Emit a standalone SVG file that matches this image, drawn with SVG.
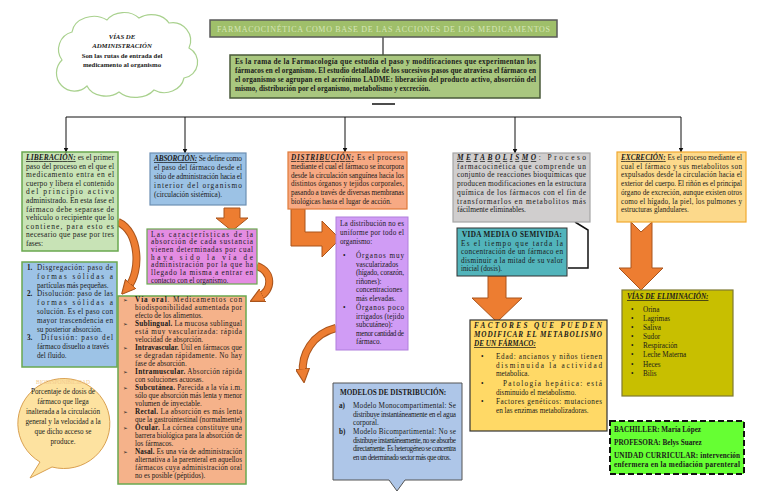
<svg xmlns="http://www.w3.org/2000/svg" width="768" height="497" viewBox="0 0 768 497">
<defs>
<style>
.t{font-family:"Liberation Serif","Times New Roman",serif;fill:#1a1a1a;}
.b{font-weight:bold;}
.bi{font-weight:bold;font-style:italic;text-decoration:underline;}
.c{text-anchor:middle;}
.conn{stroke:#111;stroke-width:1;fill:none;}
.oa{fill:#ed7d31;stroke:#a9541c;stroke-width:1;}
.curve{fill:none;stroke:#ed7d31;stroke-width:6;}
.curveo{fill:none;stroke:#a9541c;stroke-width:8;}
.bul{font-family:"DejaVu Sans",sans-serif;fill:#222;}
</style>
<marker id="ah" viewBox="0 0 10 10" refX="9" refY="5" markerWidth="5" markerHeight="5" markerUnits="userSpaceOnUse" orient="auto"><path d="M0,0 L10,5 L0,10 z" fill="#111"/></marker>
<marker id="oah" viewBox="0 0 10 10" refX="3" refY="5" markerWidth="14" markerHeight="14" markerUnits="userSpaceOnUse" orient="auto"><path d="M0,0 L10,5 L0,10 z" fill="#ed7d31" stroke="#a9541c" stroke-width="0.8"/></marker>
</defs>
<rect width="768" height="497" fill="#fff"/>

<g id="connectors">
<line class="conn" x1="383" y1="37" x2="383" y2="55" style="stroke:#555;stroke-width:1.5"/>
<line class="conn" x1="372" y1="104" x2="395" y2="104" style="stroke-width:1.5"/>
<line class="conn" x1="66" y1="117" x2="681" y2="117"/>
<line class="conn" x1="66" y1="117" x2="66" y2="152" marker-end="url(#ah)"/>
<line class="conn" x1="185" y1="117" x2="185" y2="153" marker-end="url(#ah)"/>
<line class="conn" x1="345" y1="117" x2="345" y2="152" marker-end="url(#ah)"/>
<line class="conn" x1="515" y1="117" x2="515" y2="153" marker-end="url(#ah)"/>
<line class="conn" x1="681" y1="117" x2="681" y2="152" marker-end="url(#ah)"/>
<path class="conn" d="M575,222 L588,230 V268 H568" style="stroke-width:1.5"/>
<path class="curveo" d="M118,222 C140,232 141,272 128,287"/>
<path class="curve" d="M118,222 C140,232 141,272 128,287" marker-end="url(#oah)"/>
<path class="curveo" d="M257,266 C273,272 273,290 259,297"/>
<path class="curve" d="M257,266 C273,272 273,290 259,297" marker-end="url(#oah)"/>
<path class="curveo" d="M336,328 C312,334 301,355 303,373"/>
<path class="curve" d="M336,328 C312,334 301,355 303,373" marker-end="url(#oah)"/>
<polygon class="oa" points="224,208 240,208 240,218 248,218 232,231 216,218 224,218"/>
<polygon class="oa" points="291,209 305,209 305,232 322,232 322,221 340,239 322,257 322,246 291,246"/>
<polygon class="oa" points="488,276 506,276 506,298 522,298 497,322 472,298 488,298"/>
<polygon class="oa" points="631,222 641,232 652,222 652,268 663,268 641,290 619,268 631,268"/>
</g>

<g id="title">
<rect x="210" y="20" width="347" height="17" fill="#9fbf6a" stroke="#5a5a5a" stroke-width="1.5"/>
<text class="t" x="217" y="31.5" font-size="8" textLength="333" lengthAdjust="spacing" style="fill:#d6e6b8">FARMACOCINÉTICA COMO BASE DE LAS ACCIONES DE LOS MEDICAMENTOS</text>
</g>

<g id="descripcion">
<rect x="230" y="55" width="310" height="43" fill="#a9c77f" stroke="#4a5a3a" stroke-width="1.5"/>
<g class="t b" font-size="7.2">
<text x="235" y="64" textLength="301">Es la rama de la Farmacología que estudia el paso y modificaciones que experimentan los</text>
<text x="235" y="73" textLength="301">fármacos en el organismo. El estudio detallado de los sucesivos pasos que atraviesa el fármaco en</text>
<text x="235" y="82" textLength="301">el organismo se agrupan en el acrónimo LADME: liberación del producto activo, absorción del</text>
<text x="235" y="91">mismo, distribución por el organismo, metabolismo y excreción.</text>
</g>
</g>

<g id="vias-administracion">
<path d="M62,60 A18,18 0 0,1 72,32 A22,18 0 0,1 107,20 A20,16 0 0,1 139,18 A20,16 0 0,1 169,23 A18,18 0 0,1 189,48 A16,16 0 0,1 184,78 A20,18 0 0,1 154,90 A22,16 0 0,1 119,92 A20,16 0 0,1 87,86 A16,16 0 0,1 62,60 Z" fill="#fff" stroke="#a9d18e" stroke-width="1.2"/>
<g font-size="6.8">
<text x="122" y="39" class="t c bi" style="text-decoration:none">VÍAS DE</text>
<text x="122" y="48" class="t c bi" style="text-decoration:none">ADMINISTRACIÓN</text>
<text x="122" y="58" class="t c b">Son las rutas de entrada del</text>
<text x="122" y="67" class="t c b">medicamento al organismo</text>
</g>
</g>

<g id="liberacion">
<rect x="22" y="152" width="96" height="99" fill="#c8e3b6" stroke="#6aa84f" stroke-width="1.5"/>
<g class="t" font-size="7.5">
<text x="26" y="160" textLength="88"><tspan class="bi">LIBERACIÓN:</tspan> es el primer</text>
<text x="26" y="168.6" textLength="88">paso del proceso en el que el</text>
<text x="26" y="177.2" textLength="88">medicamento entra en el</text>
<text x="26" y="185.8" textLength="88">cuerpo y libera el contenido</text>
<text x="26" y="194.4" textLength="88">del principio activo</text>
<text x="26" y="203" textLength="88">administrado. En esta fase el</text>
<text x="26" y="211.6" textLength="88">fármaco debe separase de</text>
<text x="26" y="220.2" textLength="88">vehículo o recipiente que lo</text>
<text x="26" y="228.8" textLength="88">contiene, para esto es</text>
<text x="26" y="237.4" textLength="88">necesario que pase por tres</text>
<text x="26" y="246">fases:</text>
</g>
</g>

<g id="fases">
<rect x="22" y="262" width="95" height="105" fill="#9dc3e6" stroke="#6aa84f" stroke-width="1.5"/>
<g class="t" font-size="7.2">
<text x="27" y="270" class="t b">1.</text><text x="37" y="270" textLength="76">Disgregación: paso de</text>
<text x="37" y="278.8" textLength="76">formas sólidas a</text>
<text x="37" y="287.6">partículas más pequeñas.</text>
<text x="27" y="296.4" class="t b">2.</text><text x="37" y="296.4" textLength="76">Disolución: paso de las</text>
<text x="37" y="305.2" textLength="76">formas sólidas a</text>
<text x="37" y="314" textLength="76">solución. Es el paso con</text>
<text x="37" y="322.8" textLength="76">mayor trascendencia en</text>
<text x="37" y="331.6">su posterior absorción.</text>
<text x="27" y="340.4" class="t b">3.</text><text x="41" y="340.4" textLength="72">Difusión: paso del</text>
<text x="37" y="349.2">fármaco disuelto a través</text>
<text x="37" y="358">del fluido.</text>
</g>
</g>

<g id="absorcion">
<rect x="150" y="153" width="96" height="52" fill="#9cc2e5" stroke="#6d8fb3" stroke-width="1.2"/>
<g class="t" font-size="7.3">
<text x="154" y="161" textLength="88"><tspan class="bi">ABSORCIÓN:</tspan> Se define como</text>
<text x="154" y="170" textLength="88">el paso del fármaco desde el</text>
<text x="154" y="179" textLength="88">sitio de administración hacia el</text>
<text x="154" y="188" textLength="88">interior del organismo</text>
<text x="154" y="197">(circulación sistémica).</text>
</g>
</g>

<g id="caracteristicas">
<rect x="147" y="229" width="110" height="55" fill="#e48ce2" stroke="#6aa84f" stroke-width="1.2"/>
<g class="t" font-size="7.2">
<text x="151" y="236.5" textLength="102">Las características de la</text>
<text x="151" y="244.2" textLength="102">absorción de cada sustancia</text>
<text x="151" y="251.9" textLength="102">vienen determinadas por cual</text>
<text x="151" y="259.6" textLength="102">haya sido la vía de</text>
<text x="151" y="267.3" textLength="102">administración por la que ha</text>
<text x="151" y="275" textLength="102">llegado la misma a entrar en</text>
<text x="151" y="282.7">contacto con el organismo.</text>
</g>
</g>

<g id="vias">
<rect x="118" y="296" width="128" height="188" fill="#f5b28a" stroke="#6aa84f" stroke-width="1.5"/>
<g font-size="5.5">
<text class="bul" x="123" y="302">➢</text>
<text class="bul" x="123" y="326">➢</text>
<text class="bul" x="123" y="350">➢</text>
<text class="bul" x="123" y="374">➢</text>
<text class="bul" x="123" y="390">➢</text>
<text class="bul" x="123" y="414">➢</text>
<text class="bul" x="123" y="430">➢</text>
<text class="bul" x="123" y="454">➢</text>
</g>
<g class="t" font-size="7.2">
<text x="135" y="302" textLength="107"><tspan class="b">Vía oral</tspan>. Medicamentos con</text>
<text x="135" y="310" textLength="107">biodisponibilidad aumentada por</text>
<text x="135" y="318">efecto de los alimentos.</text>
<text x="135" y="326" textLength="107"><tspan class="b">Sublingual.</tspan> La mucosa sublingual</text>
<text x="135" y="334" textLength="107">está muy vascularizada: rápida</text>
<text x="135" y="342">velocidad de absorción.</text>
<text x="135" y="350" textLength="107"><tspan class="b">Intravascular.</tspan> Útil en fármacos que</text>
<text x="135" y="358" textLength="107">se degradan rápidamente. No hay</text>
<text x="135" y="366">fase de absorción.</text>
<text x="135" y="374" textLength="107"><tspan class="b">Intramuscular.</tspan> Absorción rápida</text>
<text x="135" y="382">con soluciones acuosas.</text>
<text x="135" y="390" textLength="107"><tspan class="b">Subcutánea.</tspan> Parecida a la vía i.m.</text>
<text x="135" y="398" textLength="107">sólo que absorción más lenta y menor</text>
<text x="135" y="406">volumen de inyectable.</text>
<text x="135" y="414" textLength="107"><tspan class="b">Rectal.</tspan> La absorción es más lenta</text>
<text x="135" y="422" textLength="107">que la gastrointestinal (normalmente)</text>
<text x="135" y="430" textLength="107"><tspan class="b">Ocular.</tspan> La córnea constituye una</text>
<text x="135" y="438" textLength="107">barrera biológica para la absorción de</text>
<text x="135" y="446">los fármacos.</text>
<text x="135" y="454" textLength="107"><tspan class="b">Nasal.</tspan> Es una vía de administración</text>
<text x="135" y="462" textLength="107">alternativa a la parenteral en aquellos</text>
<text x="135" y="470" textLength="107">fármacos cuya administración oral</text>
<text x="135" y="478">no es posible (péptidos).</text>
</g>
</g>

<g id="biodisponibilidad">
<path d="M40,462 A46,45 0 1,1 52,467 L30,478 Z" fill="#fde2a0" stroke="#d9a050" stroke-width="1"/>
<g font-size="7.2">
<text x="63" y="384" class="t c" style="fill:#f2c98c" font-size="5.5">BIODISPONIBILIDAD</text>
<text x="63" y="394" class="t c">Porcentaje de dosis de</text>
<text x="63" y="404" class="t c">fármaco que llega</text>
<text x="63" y="414" class="t c">inalterada a la circulación</text>
<text x="63" y="424" class="t c">general y la velocidad a la</text>
<text x="63" y="434" class="t c">que dicho acceso se</text>
<text x="63" y="444" class="t c">produce.</text>
</g>
</g>

<g id="distribucion">
<rect x="288" y="152" width="119" height="57" fill="#f7a983" stroke="#e07b39" stroke-width="1.2"/>
<g class="t" font-size="7.2">
<text x="291" y="160" textLength="113"><tspan class="bi">DISTRIBUCIÓN:</tspan> Es el proceso</text>
<text x="291" y="168.8" textLength="113">mediante el cual el fármaco se incorpora</text>
<text x="291" y="177.6" textLength="113">desde la circulación sanguínea hacia los</text>
<text x="291" y="186.4" textLength="113">distintos órganos y tejidos corporales,</text>
<text x="291" y="195.2" textLength="113">pasando a través de diversas membranas</text>
<text x="291" y="204">biológicas hasta el lugar de acción.</text>
</g>
</g>

<g id="distribucion-no-uniforme">
<rect x="336" y="217" width="72" height="133" fill="#d09cf5" stroke="#b07fdc" stroke-width="1"/>
<g class="t" font-size="7.2">
<text x="340" y="226" textLength="64">La distribución no es</text>
<text x="340" y="235" textLength="64">uniforme por todo el</text>
<text x="340" y="244">organismo:</text>
<text x="343" y="258">•</text>
<text x="356" y="258" textLength="48">Órganos muy</text>
<text x="356" y="266.5">vascularizados</text>
<text x="356" y="275" textLength="48">(hígado, corazón,</text>
<text x="356" y="283.5">riñones):</text>
<text x="356" y="292">concentraciones</text>
<text x="356" y="300.5">más elevadas.</text>
<text x="343" y="310">•</text>
<text x="356" y="310" textLength="48">Órganos poco</text>
<text x="356" y="318.5" textLength="48">irrigados (tejido</text>
<text x="356" y="327">subcutáneo):</text>
<text x="356" y="335.5" textLength="48">menor cantidad de</text>
<text x="356" y="344">fármaco.</text>
</g>
</g>

<g id="modelos">
<path d="M333,383 H462 V480 H405 L397,491 L389,480 H333 Z" fill="#aec6e8" stroke="#555" stroke-width="1"/>
<g class="t" font-size="7.2">
<text x="340" y="395" class="t b">MODELOS DE DISTRIBUCIÓN:</text>
<text x="339" y="408" class="t b">a)</text><text x="353" y="408" textLength="103">Modelo Monocompartimental: Se</text>
<text x="353" y="416.5" textLength="103">distribuye instantáneamente en el agua</text>
<text x="353" y="425">corporal.</text>
<text x="339" y="434" class="t b">b)</text><text x="353" y="434" textLength="103">Modelo Bicompartimental: No se</text>
<text x="353" y="442.5" textLength="103">distribuye instantáneamente, no se absorbe</text>
<text x="353" y="451" textLength="103">directamente. Es heterogéneo se concentra</text>
<text x="353" y="459.5" textLength="98">en un determinado sector más que otros.</text>
</g>
</g>

<g id="metabolismo">
<rect x="453" y="153" width="137" height="69" fill="#d0cece" stroke="#a6a6a6" stroke-width="1.2"/>
<g class="t" font-size="7.4">
<text x="457" y="160" textLength="129"><tspan class="bi">METABOLISMO</tspan>: Proceso</text>
<text x="457" y="168.7" textLength="129">farmacocinética que comprende un</text>
<text x="457" y="177.4" textLength="129">conjunto de reacciones bioquímicas que</text>
<text x="457" y="186.1" textLength="129">producen modificaciones en la estructura</text>
<text x="457" y="194.8" textLength="129">química de los fármacos con el fin de</text>
<text x="457" y="203.5" textLength="129">transformarlos en metabolitos más</text>
<text x="457" y="212.2">fácilmente eliminables.</text>
</g>
</g>

<g id="vida-media">
<rect x="457" y="228" width="110" height="48" fill="#52b4bb" stroke="#333" stroke-width="1"/>
<g class="t" font-size="7.2">
<text x="462" y="237" class="t b" textLength="100">VIDA MEDIA O SEMIVIDA:</text>
<text x="461" y="245.5" textLength="102">Es el tiempo que tarda la</text>
<text x="461" y="254" textLength="102">concentración de un fármaco en</text>
<text x="461" y="262.5" textLength="102">disminuir a la mitad de su valor</text>
<text x="461" y="271">inicial (dosis).</text>
</g>
</g>

<g id="factores">
<rect x="470" y="320" width="137" height="111" fill="#ffd966" stroke="#333" stroke-width="1.2"/>
<g class="t" font-size="7.2">
<text x="474" y="328" class="t bi" style="text-decoration:none" textLength="128">FACTORES QUE PUEDEN</text>
<text x="474" y="337" class="t bi" style="text-decoration:none" textLength="128">MODIFICAR EL METABOLISMO</text>
<text x="474" y="346" class="t bi" style="text-decoration:underline">DE UN FÁRMACO:</text>
<text x="481" y="359">•</text>
<text x="496" y="359" textLength="106">Edad: ancianos y niños tienen</text>
<text x="496" y="367.5" textLength="106">disminuida la actividad</text>
<text x="496" y="376">metabolica.</text>
<text x="481" y="386">•</text>
<text x="503" y="386" textLength="99">Patología hepática: está</text>
<text x="496" y="394.5">disminuido el metabolismo.</text>
<text x="481" y="404">•</text>
<text x="496" y="404" textLength="106">Factores genéticos: mutaciones</text>
<text x="496" y="412.5">en las enzimas metabolizadoras.</text>
</g>
</g>

<g id="excrecion">
<rect x="617" y="152" width="129" height="70" fill="#fcd98b" stroke="#f0a830" stroke-width="1.2"/>
<g class="t" font-size="7.2">
<text x="621" y="160" textLength="121"><tspan class="bi">EXCRECIÓN:</tspan> Es el proceso mediante el</text>
<text x="621" y="168.7" textLength="121">cual el fármaco y sus metabolitos son</text>
<text x="621" y="177.4" textLength="121">expulsados desde la circulación hacia el</text>
<text x="621" y="186.1" textLength="121">exterior del cuerpo. El riñón es el principal</text>
<text x="621" y="194.8" textLength="121">órgano de excreción, aunque existen otros</text>
<text x="621" y="203.5" textLength="121">como el hígado, la piel, los pulmones y</text>
<text x="621" y="212.2">estructuras glandulares.</text>
</g>
</g>

<g id="vias-eliminacion">
<rect x="622" y="290" width="111" height="106" fill="#c8bf00" stroke="#7f7a30" stroke-width="1.2"/>
<g class="t" font-size="7.2">
<text x="627" y="299" class="t bi">VÍAS DE ELIMINACIÓN:</text>
<text x="631" y="312">•</text><text x="643" y="312">Orina</text>
<text x="631" y="321">•</text><text x="643" y="321">Lagrimas</text>
<text x="631" y="330">•</text><text x="643" y="330">Saliva</text>
<text x="631" y="339">•</text><text x="643" y="339">Sudor</text>
<text x="631" y="348">•</text><text x="643" y="348">Respiración</text>
<text x="631" y="357">•</text><text x="643" y="357">Leche Materna</text>
<text x="631" y="367">•</text><text x="643" y="367">Heces</text>
<text x="631" y="376">•</text><text x="643" y="376">Bilis</text>
</g>
</g>

<g id="autoria">
<rect x="610" y="421" width="134" height="53" fill="#66ff33" stroke="#111" stroke-width="2" stroke-dasharray="6,3"/>
<g class="t b" font-size="7.2">
<text x="614" y="432">BACHILLER: María López</text>
<text x="614" y="445">PROFESORA: Belys Suarez</text>
<text x="614" y="458" textLength="126">UNIDAD CURRICULAR: intervención</text>
<text x="614" y="467" textLength="126">enfermera en la mediación parenteral</text>
</g>
</g>
</svg>
